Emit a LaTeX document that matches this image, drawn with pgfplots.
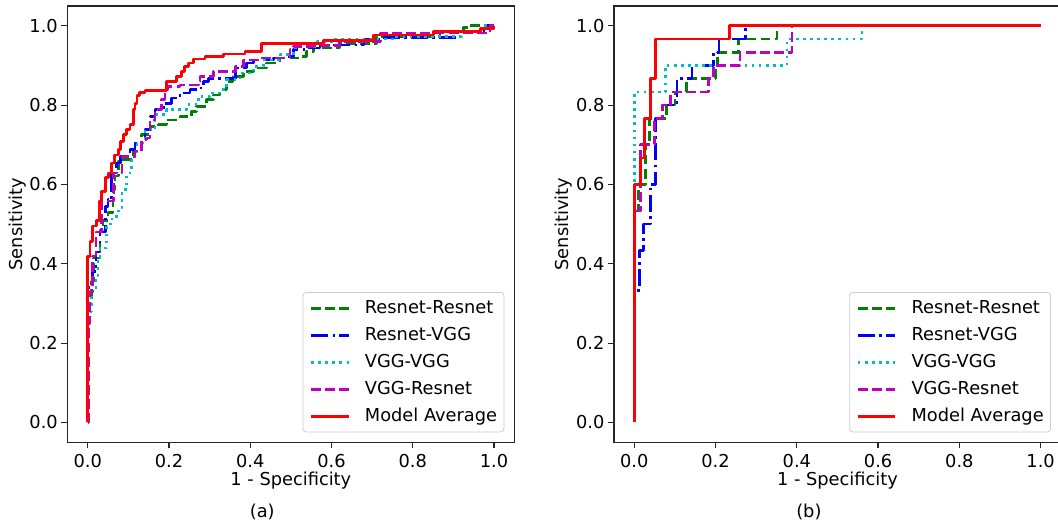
\documentclass[border=0pt]{standalone}
\usepackage{fontspec}
\setmainfont{DejaVu Sans}
\usepackage{pgfplots}
\pgfplotsset{compat=1.18}
\definecolor{cRR}{RGB}{0,128,0}
\definecolor{cRV}{RGB}{0,0,255}
\definecolor{cVV}{RGB}{0,191,191}
\definecolor{cVR}{RGB}{191,0,191}
\definecolor{cMA}{RGB}{255,0,0}
\newcommand{\lblfont}{\fontsize{8.9}{10}\selectfont}

\pgfplotsset{
  rocax/.style={
    scale only axis, width=223.45pt, height=218.15pt,
    xmin=-0.05, xmax=1.05, ymin=-0.05, ymax=1.05,
    clip mode=individual,
    xtick={0,0.2,0.4,0.6,0.8,1}, ytick={0,0.2,0.4,0.6,0.8,1},
    tick align=outside, xtick pos=bottom, ytick pos=left,
    major tick length=3pt,
    every tick/.style={black!85, line width=0.6pt},
    axis line style={black!85, line width=0.7pt},
    xticklabel style={font=\lblfont, inner sep=0pt, anchor=north, yshift=-2.8pt},
    yticklabel style={font=\lblfont, inner sep=0pt, anchor=east, xshift=-1.6pt},
    /pgf/number format/fixed, /pgf/number format/fixed zerofill,
    /pgf/number format/precision=1, /pgf/number format/assume math mode=true,
    xlabel={1 - Specificity}, ylabel={Sensitivity},
    label style={font=\lblfont},
    xlabel style={at={(axis description cs:0.5,-0.0887)}, anchor=center},
    ylabel style={at={(axis description cs:-0.112,0.5)}, anchor=center},
    legend cell align=left,
    legend image code/.code={\draw[#1] (0pt,0pt) -- (18.7pt,0pt);},
    legend style={at={(1,0)}, anchor=south east, xshift=-5pt, yshift=5pt,
      draw=black!20, rounded corners=1.5pt, inner xsep=3.4pt, inner ysep=3.7pt,
      row sep=5.2pt, font=\lblfont,
      nodes={inner sep=0pt, text height=6.6pt, text depth=1.7pt},
      /tikz/every odd column/.style={column sep=7.5pt}},
  },
  sRR/.style={cRR, line width=1.33pt, const plot, line join=round, dash pattern=on 4.94pt off 2.14pt},
  sRV/.style={cRV, line width=1.33pt, const plot, line join=round, dash pattern=on 8.54pt off 2.14pt on 1.34pt off 2.14pt},
  sVV/.style={cVV, line width=1.33pt, const plot, line join=round, dash pattern=on 1.34pt off 2.2pt},
  sVR/.style={cVR, line width=1.33pt, const plot, line join=round, dash pattern=on 4.94pt off 2.14pt},
  sMA/.style={cMA, line width=1.33pt, const plot, line join=round},
}

\begin{document}
\begin{tikzpicture}
% ===== (a) =====
\begin{axis}[rocax, at={(33.7pt,40.85pt)}, anchor=south west]
\addplot[sRR] coordinates {
 (0,0) (0,0.30) (0.01,0.355) (0.014,0.415) (0.03,0.485) (0.038,0.51) (0.05,0.53)
 (0.062,0.56) (0.065,0.587) (0.067,0.621) (0.075,0.659) (0.088,0.663) (0.112,0.688)
 (0.133,0.726) (0.153,0.747) (0.174,0.751) (0.194,0.763) (0.227,0.772) (0.256,0.784)
 (0.268,0.797) (0.293,0.814) (0.309,0.826) (0.326,0.839) (0.342,0.860) (0.358,0.872)
 (0.383,0.885) (0.408,0.894) (0.440,0.906) (0.473,0.919) (0.523,0.923) (0.539,0.935)
 (0.555,0.944) (0.62,0.955) (0.71,0.973) (0.867,0.985) (0.925,0.995) (0.94,1) (1,1)};
\addlegendentry{Resnet-Resnet}
\addplot[sRV] coordinates {
 (0,0) (0,0.34) (0.012,0.38) (0.02,0.43) (0.03,0.48) (0.043,0.545) (0.05,0.562)
 (0.059,0.629) (0.071,0.654) (0.080,0.671) (0.104,0.688) (0.116,0.705) (0.141,0.738)
 (0.153,0.772) (0.166,0.789) (0.186,0.805) (0.207,0.818) (0.227,0.831) (0.252,0.839)
 (0.272,0.843) (0.285,0.860) (0.297,0.868) (0.363,0.881) (0.367,0.894) (0.391,0.906)
 (0.408,0.914) (0.457,0.919) (0.490,0.923) (0.506,0.940) (0.539,0.944) (0.572,0.952)
 (0.68,0.965) (0.73,0.97) (0.91,0.986) (0.98,1) (1,1)};
\addlegendentry{Resnet-VGG}
\addplot[sVV] coordinates {
 (0,0) (0,0.28) (0.01,0.33) (0.02,0.37) (0.025,0.41) (0.03,0.44) (0.047,0.5)
 (0.06,0.52) (0.075,0.541) (0.084,0.587) (0.096,0.629) (0.108,0.671) (0.121,0.705)
 (0.141,0.738) (0.166,0.776) (0.194,0.789) (0.244,0.801) (0.272,0.822) (0.301,0.831)
 (0.326,0.839) (0.342,0.864) (0.375,0.881) (0.408,0.898) (0.432,0.914) (0.473,0.927)
 (0.506,0.944) (0.523,0.948) (0.564,0.960) (0.604,0.967) (0.76,0.973) (0.92,0.985)
 (0.97,1) (1,1)};
\addlegendentry{VGG-VGG}
\addplot[sVR] coordinates {
 (0,0) (0.002,0.25) (0.006,0.33) (0.012,0.42) (0.02,0.48) (0.034,0.558) (0.063,0.629)
 (0.084,0.671) (0.116,0.684) (0.133,0.713) (0.145,0.717) (0.153,0.763) (0.166,0.789)
 (0.182,0.814) (0.190,0.839) (0.198,0.847) (0.227,0.851) (0.272,0.860) (0.276,0.872)
 (0.309,0.885) (0.363,0.898) (0.383,0.914) (0.424,0.919) (0.498,0.940) (0.506,0.948)
 (0.555,0.950) (0.62,0.96) (0.72,0.982) (0.99,1) (1,1)};
\addlegendentry{VGG-Resnet}
\addplot[sMA] coordinates {
 (0,0) (0,0.419) (0.006,0.457) (0.012,0.495) (0.022,0.51) (0.029,0.558) (0.034,0.583)
 (0.043,0.617) (0.051,0.629) (0.059,0.654) (0.066,0.674) (0.075,0.688) (0.080,0.709)
 (0.088,0.726) (0.096,0.738) (0.104,0.751) (0.112,0.789) (0.116,0.805) (0.121,0.824)
 (0.127,0.832) (0.141,0.837) (0.194,0.860) (0.219,0.872) (0.231,0.885) (0.239,0.898)
 (0.248,0.906) (0.260,0.916) (0.289,0.923) (0.334,0.929) (0.387,0.935) (0.428,0.956)
 (0.580,0.963) (0.703,0.977) (0.851,0.986) (0.966,0.994) (1,1)};
\addlegendentry{Model Average}
\node[font=\lblfont] at (axis description cs:0.436,-0.16) {(a)};
\end{axis}
% ===== (b) =====
\begin{axis}[rocax, at={(307pt,40.85pt)}, anchor=south west]
\addplot[sRR] coordinates {
 (0,0) (0,0.533) (0.01,0.6) (0.027,0.7) (0.038,0.767) (0.08,0.8) (0.1,0.833)
 (0.128,0.867) (0.2,0.9) (0.205,0.933) (0.257,0.967) (0.351,1) (1,1)};
\addlegendentry{Resnet-Resnet}
\addplot[sRV] coordinates {
 (0,0) (0,0.333) (0.013,0.433) (0.023,0.5) (0.039,0.6) (0.052,0.767) (0.07,0.8)
 (0.105,0.867) (0.142,0.9) (0.195,0.933) (0.208,0.967) (0.273,1) (1,1)};
\addlegendentry{Resnet-VGG}
\addplot[sVV] coordinates {
 (0,0) (0,0.833) (0.076,0.9) (0.376,0.967) (0.56,1) (1,1)};
\addlegendentry{VGG-VGG}
\addplot[sVR] coordinates {
 (0,0) (0,0.533) (0.015,0.7) (0.05,0.767) (0.07,0.8) (0.089,0.833) (0.182,0.867)
 (0.195,0.9) (0.26,0.933) (0.388,1) (1,1)};
\addlegendentry{VGG-Resnet}
\addplot[sMA] coordinates {
 (0,0) (0,0.6) (0.016,0.667) (0.025,0.767) (0.039,0.867) (0.052,0.967) (0.235,1) (1,1)};
\addlegendentry{Model Average}
\node[font=\lblfont] at (axis description cs:0.436,-0.16) {(b)};
\end{axis}
\pgfresetboundingbox
\useasboundingbox (0,0) rectangle (529pt,262pt);
\end{tikzpicture}
\end{document}
